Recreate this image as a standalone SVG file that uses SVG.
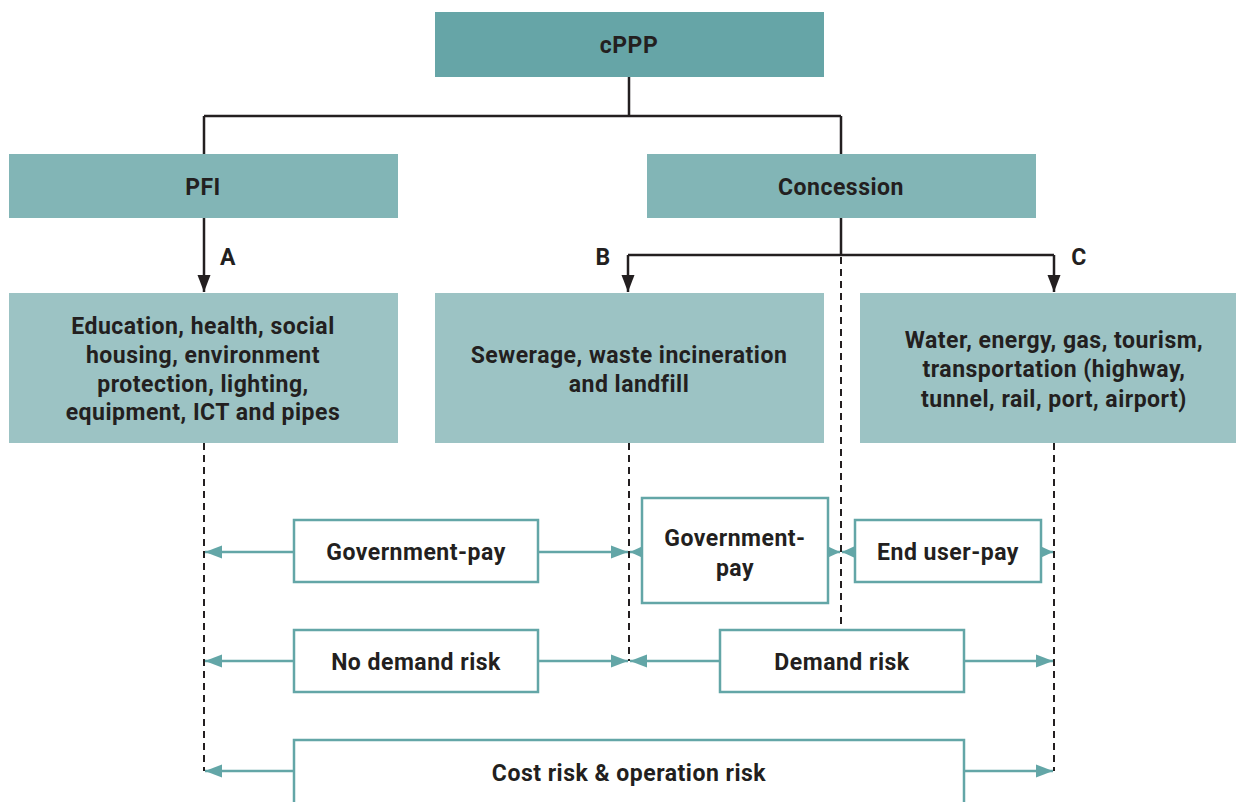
<svg xmlns="http://www.w3.org/2000/svg" width="1236" height="802" viewBox="0 0 1236 802">
<defs>
<marker id="blk" markerUnits="userSpaceOnUse" markerWidth="18" markerHeight="14" refX="17" refY="7" orient="auto"><path d="M0,0.5 L17,7 L0,13.5 Z" fill="#231f20"/></marker>
<marker id="tl" markerUnits="userSpaceOnUse" markerWidth="18" markerHeight="14" refX="17" refY="7" orient="auto"><path d="M0,0.5 L17,7 L0,13.5 Z" fill="#63a6a7"/></marker>
<marker id="ts" markerUnits="userSpaceOnUse" markerWidth="14" markerHeight="14" refX="13" refY="7" orient="auto"><path d="M0,1 L13,7 L0,13 Z" fill="#63a6a7"/></marker>
</defs>
<style>
.t{font-family:Roboto,"Liberation Sans",Arial,sans-serif;font-weight:bold;font-size:23px;letter-spacing:0.5px;fill:#231f20;text-anchor:middle}
.b1{fill:#66a5a7}
.b2{fill:#82b5b6}
.b3{fill:#9cc3c4}
.ob{fill:#fff;stroke:#63a6a7;stroke-width:2.5}
.k{stroke:#231f20;stroke-width:2.5;fill:none}
.d{stroke:#231f20;stroke-width:2;fill:none;stroke-dasharray:7,5}
.a{stroke:#63a6a7;stroke-width:2.5;fill:none}
</style>
<rect width="1236" height="802" fill="#fff"/>
<g id="connectors">
<path class="k" d="M629,77 V116 M204,116 H841 M204,116 V154 M841,116 V154"/>
<path class="k" d="M204,217 V292" marker-end="url(#blk)"/>
<path class="k" d="M841,217 V255 M628,255 H1054"/>
<path class="k" d="M628,255 V292" marker-end="url(#blk)"/>
<path class="k" d="M1054,255 V292" marker-end="url(#blk)"/>
<path class="d" d="M841,257 V630"/>
<path class="d" d="M204,443 V771"/>
<path class="d" d="M629,443 V661"/>
<path class="d" d="M1054,443 V771"/>
<path class="a" d="M294,552 H205" marker-end="url(#tl)"/>
<path class="a" d="M538,552 H628" marker-end="url(#tl)"/>
<path class="a" d="M642,552 H630" marker-end="url(#ts)"/>
<path class="a" d="M828,552 H840" marker-end="url(#ts)"/>
<path class="a" d="M855,552 H842" marker-end="url(#ts)"/>
<path class="a" d="M1041,552 H1053" marker-end="url(#ts)"/>
<path class="a" d="M294,661 H205" marker-end="url(#tl)"/>
<path class="a" d="M538,661 H628" marker-end="url(#tl)"/>
<path class="a" d="M720,661 H630" marker-end="url(#tl)"/>
<path class="a" d="M964,661 H1053" marker-end="url(#tl)"/>
<path class="a" d="M294,771 H205" marker-end="url(#tl)"/>
<path class="a" d="M964,771 H1053" marker-end="url(#tl)"/>
</g>
<g id="cppp"><rect class="b1" x="435" y="12" width="389" height="65"/><text class="t" x="629" y="53">cPPP</text></g>
<g id="pfi"><rect class="b2" x="9" y="154" width="389" height="64"/><text class="t" x="203" y="195">PFI</text></g>
<g id="concession"><rect class="b2" x="647" y="154" width="389" height="64"/><text class="t" x="841" y="195">Concession</text></g>
<g id="labelA"><text class="t" x="228" y="265">A</text></g>
<g id="labelB"><text class="t" x="603" y="265">B</text></g>
<g id="labelC"><text class="t" x="1079" y="265">C</text></g>
<g id="sectorA"><rect class="b3" x="9" y="293" width="389" height="150"/>
<text class="t" x="203" y="334">Education, health, social</text>
<text class="t" x="203" y="363">housing, environment</text>
<text class="t" x="203" y="392">protection, lighting,</text>
<text class="t" x="203" y="420">equipment, ICT and pipes</text></g>
<g id="sectorB"><rect class="b3" x="435" y="293" width="389" height="150"/>
<text class="t" x="629" y="363">Sewerage, waste incineration</text>
<text class="t" x="629" y="392">and landfill</text></g>
<g id="sectorC"><rect class="b3" x="860" y="293" width="376" height="150"/>
<text class="t" x="1054" y="348">Water, energy, gas, tourism,</text>
<text class="t" x="1054" y="377">transportation (highway,</text>
<text class="t" x="1054" y="407">tunnel, rail, port, airport)</text></g>
<g id="govpayA"><rect class="ob" x="294" y="520" width="244" height="62"/><text class="t" x="416" y="560">Government-pay</text></g>
<g id="govpayB"><rect class="ob" x="642" y="498" width="186" height="105"/><text class="t" x="735" y="546">Government-</text><text class="t" x="735" y="576">pay</text></g>
<g id="enduser"><rect class="ob" x="855" y="520" width="186" height="62"/><text class="t" x="948" y="560">End user-pay</text></g>
<g id="nodemand"><rect class="ob" x="294" y="630" width="244" height="62"/><text class="t" x="416" y="670">No demand risk</text></g>
<g id="demand"><rect class="ob" x="720" y="630" width="244" height="62"/><text class="t" x="842" y="670">Demand risk</text></g>
<g id="costrisk"><rect class="ob" x="294" y="740" width="670" height="90"/><text class="t" x="629" y="781">Cost risk &amp; operation risk</text></g>
</svg>
